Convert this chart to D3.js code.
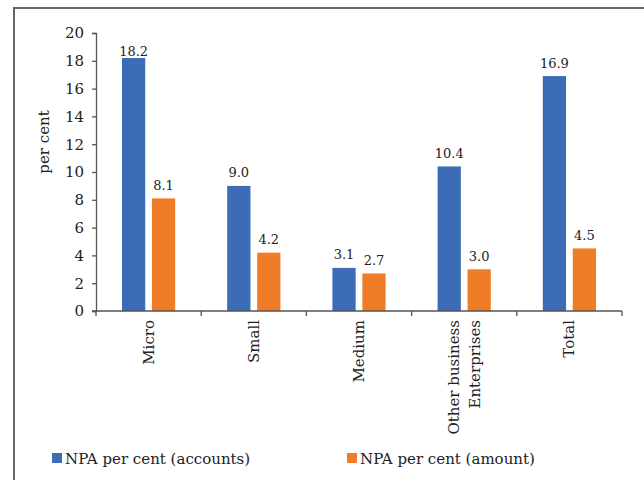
<!DOCTYPE html>
<html><head><meta charset="utf-8">
<script src="https://cdn.jsdelivr.net/npm/d3@7"></script>
<style>body{margin:0;background:#fff;} svg{display:block;}</style>
</head><body>
<svg id="chart" width="644" height="480"></svg>
<script>
const categories = [["Micro"], ["Small"], ["Medium"], ["Other business", "Enterprises"], ["Total"]];
const seriesNames = ["NPA per cent (accounts)", "NPA per cent (amount)"];
const accounts = [18.2, 9.0, 3.1, 10.4, 16.9];
const amount = [8.1, 4.2, 2.7, 3.0, 4.5];
const yTicks = [0, 2, 4, 6, 8, 10, 12, 14, 16, 18, 20];
const colors = ["#3b6cb5", "#ef7d28"];

(function () {
const svg = d3.select("#chart");
const font = "'DejaVu Serif', serif";
const mLeft = 96, mRight = 622, mTop = 33, mBottom = 311;

svg.append("path").attr("d", "M14,480 L14,8 L644,8").attr("fill", "none")
  .attr("stroke", "#666").attr("stroke-width", 2);

const x = d3.scaleBand().domain(d3.range(categories.length)).range([mLeft, mRight]).paddingInner(0).paddingOuter(0);
const inner = d3.scaleBand().domain([0, 1]).range([26, x.bandwidth() - 26]).paddingInner(0.224);
const y = d3.scaleLinear().domain([0, 20]).range([mBottom, mTop]);

const data = [accounts, amount];

data.forEach((vals, s) => {
  svg.append("g").selectAll("rect").data(vals).join("rect")
    .attr("x", (d, i) => x(i) + inner(s))
    .attr("y", d => y(d))
    .attr("width", inner.bandwidth())
    .attr("height", d => y(0) - y(d))
    .attr("fill", colors[s]);
  svg.append("g").selectAll("text").data(vals).join("text")
    .attr("x", (d, i) => x(i) + inner(s) + inner.bandwidth() / 2)
    .attr("y", d => Math.max(y(d) - 8.5, mTop + 22.5))
    .attr("text-anchor", "middle")
    .attr("font-family", font).attr("font-size", 13).attr("fill", "#222")
    .text(d => d.toFixed(1));
});

const yAxis = svg.append("g").attr("transform", `translate(${mLeft},0)`)
  .call(d3.axisLeft(y).tickValues(yTicks).tickSize(4).tickPadding(8));
yAxis.select(".domain").attr("stroke", "#555").attr("stroke-width", 1.3);
yAxis.selectAll(".tick line").attr("stroke", "#555").attr("stroke-width", 1.3);
yAxis.selectAll("text").attr("font-family", font).attr("font-size", 15).attr("fill", "#222");

const xAxisG = svg.append("g").attr("transform", `translate(0,${mBottom})`);
xAxisG.append("line").attr("x1", mLeft - 4).attr("x2", mRight).attr("y1", 0).attr("y2", 0)
  .attr("stroke", "#555").attr("stroke-width", 1.3);
const boundaries = d3.range(categories.length + 1).map(i => i < categories.length ? x(i) : x(i - 1) + x.bandwidth());
xAxisG.selectAll("line.tk").data(boundaries).join("line").attr("class", "tk")
  .attr("x1", d => d).attr("x2", d => d).attr("y1", 0).attr("y2", 5)
  .attr("stroke", "#555").attr("stroke-width", 1.3);

categories.forEach((lines, i) => {
  const cx = x(i) + x.bandwidth() / 2;
  const n = lines.length;
  lines.forEach((ln, j) => {
    const off = (j - (n - 1) / 2) * 21;
    svg.append("text")
      .attr("transform", `translate(${cx + off + 5},${mBottom + 9}) rotate(-90)`)
      .attr("text-anchor", "end")
      .attr("font-family", font).attr("font-size", 15).attr("fill", "#222")
      .text(ln);
  });
});

svg.append("text").attr("transform", `translate(49,142) rotate(-90)`)
  .attr("text-anchor", "middle").attr("font-family", font).attr("font-size", 15).attr("fill", "#222")
  .text("per cent");

const legendX = [52, 347];
seriesNames.forEach((name, s) => {
  svg.append("rect").attr("x", legendX[s]).attr("y", 453).attr("width", 10).attr("height", 10).attr("fill", colors[s]);
  svg.append("text").attr("x", legendX[s] + 13).attr("y", 464)
    .attr("font-family", font).attr("font-size", 15).attr("fill", "#222").text(name);
});
})();
</script>
</body></html>
